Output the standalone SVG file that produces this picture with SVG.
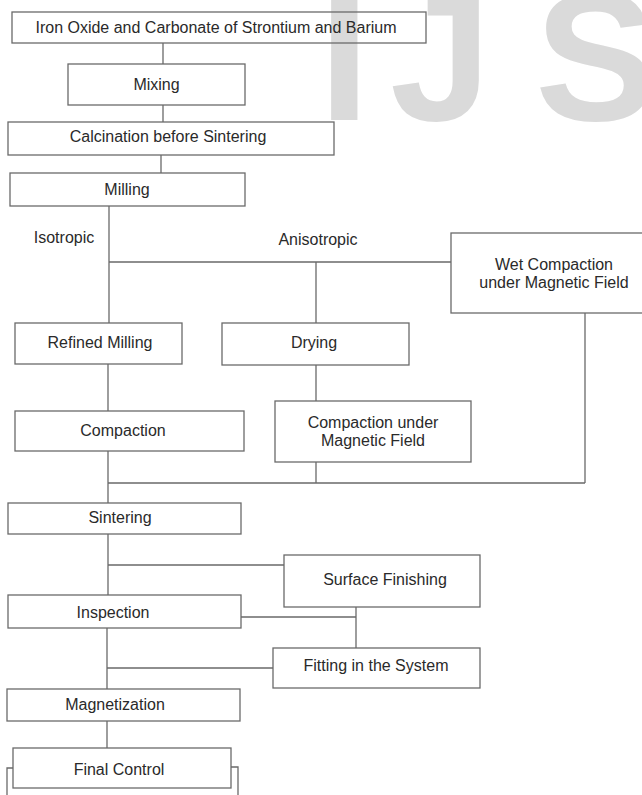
<svg xmlns="http://www.w3.org/2000/svg" width="642" height="795" viewBox="0 0 642 795">
<style>
.box{fill:none;stroke:#6a6a6a;stroke-width:1.3}
.ln{fill:none;stroke:#6a6a6a;stroke-width:1.3}
.t{font-family:"Liberation Sans",Arial,sans-serif;font-size:16px;fill:#2a2a2a;text-anchor:middle}
.wm{font-family:"Liberation Sans",Arial,sans-serif;font-size:182px;font-weight:bold;fill:#dadada}
</style>
<rect width="642" height="795" fill="#ffffff"/>
<text class="wm" x="319 390 535" y="120">IJS</text>
<g id="connectors">
<path class="ln" d="M163,43V64M163,105V122M161,155V173M109,206V323M109,262H451M316,262V323M108,364V411M316,365V401M108,451V503M316,462V483M585,313V483M108,483H585M108,534V595M108,565H284M241,617H356M356,607V648M107,628V689M107,668H273M107,721V748M13,768H7V795M231,767H238V795"/>
</g>
<g id="n-iron"><rect class="box" x="12" y="12" width="414" height="31"/><text class="t" x="216" y="32.5">Iron Oxide and Carbonate of Strontium and Barium</text></g>
<g id="n-mixing"><rect class="box" x="68" y="64" width="177" height="41"/><text class="t" x="156.5" y="90">Mixing</text></g>
<g id="n-calcination"><rect class="box" x="8" y="122" width="326" height="33"/><text class="t" x="168" y="142">Calcination before Sintering</text></g>
<g id="n-milling"><rect class="box" x="10" y="173" width="235" height="33"/><text class="t" x="127" y="195">Milling</text></g>
<g id="l-isotropic"><text class="t" x="64" y="243">Isotropic</text></g>
<g id="l-anisotropic"><text class="t" x="318" y="245">Anisotropic</text></g>
<g id="n-wet"><rect class="box" x="451" y="233" width="206" height="80"/><text class="t" x="554" y="270">Wet Compaction</text><text class="t" x="554" y="288">under Magnetic Field</text></g>
<g id="n-refined"><rect class="box" x="15" y="323" width="167" height="41"/><text class="t" x="100" y="348">Refined Milling</text></g>
<g id="n-drying"><rect class="box" x="222" y="323" width="187" height="42"/><text class="t" x="314" y="348">Drying</text></g>
<g id="n-compaction"><rect class="box" x="15" y="411" width="229" height="40"/><text class="t" x="123" y="436">Compaction</text></g>
<g id="n-compaction-mf"><rect class="box" x="275" y="401" width="196" height="61"/><text class="t" x="373" y="428">Compaction under</text><text class="t" x="373" y="446">Magnetic Field</text></g>
<g id="n-sintering"><rect class="box" x="8" y="503" width="233" height="31"/><text class="t" x="120" y="523">Sintering</text></g>
<g id="n-surface"><rect class="box" x="284" y="555" width="196" height="52"/><text class="t" x="385" y="585">Surface Finishing</text></g>
<g id="n-inspection"><rect class="box" x="8" y="595" width="233" height="33"/><text class="t" x="113" y="618">Inspection</text></g>
<g id="n-fitting"><rect class="box" x="273" y="648" width="207" height="40"/><text class="t" x="376" y="671">Fitting in the System</text></g>
<g id="n-magnetization"><rect class="box" x="7" y="689" width="233" height="32"/><text class="t" x="115" y="710">Magnetization</text></g>
<g id="n-final"><rect class="box" x="13" y="748" width="218" height="40"/><text class="t" x="119" y="775">Final Control</text></g>
</svg>
